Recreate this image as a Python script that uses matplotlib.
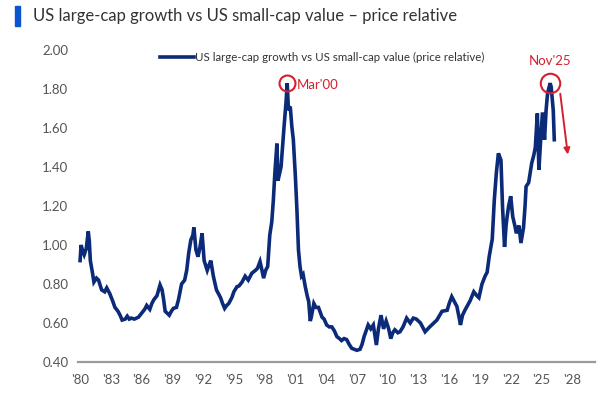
import numpy as np
import matplotlib
matplotlib.use('Agg')
import matplotlib.pyplot as plt
from matplotlib.patches import Rectangle

plt.rcParams['font.family'] = ['Lato', 'DejaVu Sans']

# price relative (decimal year, value)
dates = [1980.0, 1980.1, 1980.25, 1980.4, 1980.6, 1980.8, 1980.9, 1981.0, 1981.2, 1981.35,
         1981.6, 1981.8, 1982.1, 1982.4, 1982.6, 1982.9, 1983.2, 1983.4, 1983.7, 1983.9,
         1984.1, 1984.4, 1984.6, 1984.8, 1985.0, 1985.3, 1985.5, 1985.7, 1986.0, 1986.3,
         1986.5, 1986.8, 1987.0, 1987.2, 1987.5, 1987.8, 1988.0, 1988.15, 1988.3, 1988.5,
         1988.7, 1988.9, 1989.1, 1989.4, 1989.6, 1989.9, 1990.2, 1990.4, 1990.6, 1990.8,
         1991.0, 1991.1, 1991.3, 1991.5, 1991.7, 1991.9, 1992.1, 1992.4, 1992.6, 1992.75,
         1993.0, 1993.3, 1993.5, 1993.7, 1993.9, 1994.1, 1994.3, 1994.5, 1994.8, 1995.0,
         1995.3, 1995.5, 1995.8, 1996.1, 1996.4, 1996.75, 1997.1, 1997.3, 1997.55, 1997.7,
         1997.9, 1998.1, 1998.3, 1998.5, 1998.7, 1998.85, 1999.0, 1999.2, 1999.3, 1999.6,
         1999.9, 2000.1, 2000.2, 2000.3, 2000.4, 2000.5, 2000.65, 2000.8, 2001.0, 2001.15,
         2001.3, 2001.45, 2001.6, 2001.75, 2001.95, 2002.15, 2002.3, 2002.45, 2002.55, 2002.8,
         2003.0, 2003.25, 2003.6, 2003.8, 2004.05, 2004.3, 2004.55, 2004.8, 2005.05, 2005.3,
         2005.5, 2005.75, 2006.0, 2006.25, 2006.5, 2006.75, 2007.0, 2007.3, 2007.5, 2007.7,
         2008.1, 2008.35, 2008.6, 2008.9, 2009.1, 2009.35, 2009.6, 2009.85, 2010.1, 2010.3,
         2010.5, 2010.7, 2011.0, 2011.2, 2011.5, 2011.85, 2012.2, 2012.5, 2012.8, 2013.2,
         2013.65, 2014.1, 2014.5, 2014.8, 2015.3, 2015.8, 2016.0, 2016.25, 2016.5, 2016.75,
         2017.0, 2017.1, 2017.3, 2017.55, 2018.05, 2018.4, 2018.7, 2018.9, 2019.2, 2019.5,
         2019.7, 2019.9, 2020.2, 2020.4, 2020.6, 2020.8, 2021.05, 2021.2, 2021.4, 2021.55,
         2021.65, 2021.8, 2022.0, 2022.2, 2022.4, 2022.55, 2022.8, 2023.0, 2023.25, 2023.4,
         2023.5, 2023.75, 2024.05, 2024.25, 2024.4, 2024.6, 2024.75, 2024.9, 2025.1, 2025.3,
         2025.45, 2025.6, 2025.85, 2025.95, 2026.15, 2026.25]
values = [0.92, 1.00, 0.97, 0.95, 0.98, 1.07, 1.02, 0.92, 0.86, 0.81,
          0.83, 0.82, 0.77, 0.76, 0.78, 0.75, 0.71, 0.68, 0.66, 0.64,
          0.615, 0.62, 0.635, 0.62, 0.625, 0.62, 0.625, 0.63, 0.65, 0.67,
          0.69, 0.67, 0.70, 0.72, 0.74, 0.795, 0.77, 0.72, 0.66, 0.65,
          0.64, 0.66, 0.675, 0.68, 0.72, 0.80, 0.82, 0.87, 0.96, 1.025,
          1.05, 1.09, 0.975, 0.94, 0.99, 1.06, 0.92, 0.87, 0.90, 0.92,
          0.84, 0.77, 0.75, 0.73, 0.70, 0.675, 0.69, 0.70, 0.73, 0.76,
          0.786, 0.79, 0.81, 0.84, 0.82, 0.855, 0.87, 0.88, 0.915, 0.88,
          0.83, 0.87, 0.89, 1.05, 1.12, 1.23, 1.37, 1.52, 1.33, 1.40,
          1.61, 1.74, 1.83, 1.72, 1.69, 1.71, 1.61, 1.54, 1.35, 1.18,
          0.975, 0.89, 0.84, 0.85, 0.79, 0.74, 0.71, 0.61, 0.63, 0.70,
          0.68, 0.68, 0.63, 0.62, 0.59, 0.58, 0.58, 0.56, 0.53, 0.52,
          0.51, 0.52, 0.515, 0.49, 0.47, 0.465, 0.46, 0.465, 0.49, 0.53,
          0.59, 0.57, 0.59, 0.487, 0.57, 0.64, 0.57, 0.61, 0.57, 0.52,
          0.55, 0.565, 0.55, 0.555, 0.58, 0.625, 0.60, 0.625, 0.62, 0.60,
          0.555, 0.58, 0.60, 0.615, 0.66, 0.665, 0.70, 0.735, 0.71, 0.685,
          0.62, 0.59, 0.64, 0.667, 0.715, 0.76, 0.74, 0.73, 0.80, 0.84,
          0.86, 0.94, 1.03, 1.23, 1.37, 1.47, 1.435, 1.20, 0.99, 1.10,
          1.145, 1.20, 1.25, 1.145, 1.10, 1.06, 1.10, 1.01, 1.09, 1.20,
          1.30, 1.32, 1.42, 1.46, 1.50, 1.675, 1.385, 1.52, 1.68, 1.54,
          1.69, 1.78, 1.83, 1.81, 1.69, 1.54]

tick_years = list(range(1980, 2029, 3))
tick_labels = ["'%02d" % (y % 100) for y in tick_years]
y_ticks = [0.40, 0.60, 0.80, 1.00, 1.20, 1.40, 1.60, 1.80, 2.00]

navy = '#0b2a78'
red = '#d3202f'
grey = '#555555'

fig = plt.figure(figsize=(6.02, 3.96), dpi=100)
ax = fig.add_axes([0.1296, 0.0859, 0.8584, 0.7878])

ax.plot(dates, values, color=navy, lw=2.6, solid_joinstyle='miter',
        label='US large-cap growth vs US small-cap value (price relative)')

ax.set_xlim(1979.8, 2030.2)
ax.set_ylim(0.40, 2.00)
ax.set_xticks(tick_years)
ax.set_xticklabels(tick_labels)
ax.set_yticks(y_ticks)
ax.set_yticklabels(['%.2f' % v for v in y_ticks])
ax.tick_params(length=0, labelsize=9.5, colors=grey, pad=7)
ax.tick_params(axis='x', pad=9)
for s in ['top', 'right', 'left']:
    ax.spines[s].set_visible(False)
ax.spines['bottom'].set_color('#9a9a9a')
ax.spines['bottom'].set_linewidth(1.6)

# circle the two peaks
d = np.array(dates)
v = np.array(values)
i00 = np.argmax(np.where(d < 2010, v, 0))
i25 = np.argmax(np.where(d > 2020, v, 0))
ax.plot(d[i00], v[i00], 'o', ms=11.5, mfc='none', mec=red, mew=1.5, clip_on=False)
ax.plot(d[i25], v[i25], 'o', ms=14, mfc='none', mec=red, mew=1.5, clip_on=False)
ax.text(2001.1, 1.82, "Mar'00", color=red, fontsize=9.5, va='center', ha='left')
ax.text(2025.8, 1.945, "Nov'25", color=red, fontsize=9.5, va='center', ha='center')
ax.annotate('', xy=(2027.6, 1.45), xytext=(2026.8, 1.79),
            arrowprops=dict(arrowstyle='-|>', color=red, lw=1.4, mutation_scale=9))

leg = ax.legend(loc='center', bbox_to_anchor=(0.535, 0.856), bbox_transform=fig.transFigure,
                frameon=False, fontsize=8.3, handlelength=3.0, handletextpad=0.1)
for t in leg.get_texts():
    t.set_color('#333333')

fig.patches.append(Rectangle((15 / 602, 1 - 26 / 396), 5 / 602, 20 / 396,
                             transform=fig.transFigure, color='#0a55d0', figure=fig))
fig.text(33 / 602, 1 - 16 / 396, 'US large-cap growth vs US small-cap value \u2013 price relative',
         fontsize=12, color='#333333', va='center', ha='left')

plt.savefig('out.png', dpi=100)
